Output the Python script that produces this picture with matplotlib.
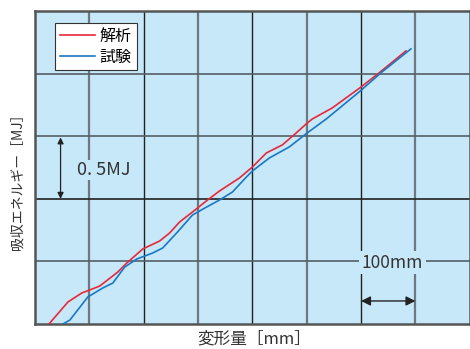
import matplotlib.pyplot as plt

plt.rcParams['font.family'] = ['Noto Sans CJK JP', 'DejaVu Sans']

# 解析 (analysis) curve: displacement [mm], absorbed energy [MJ]
ana_x = [25.7, 60.6, 86.2, 100.9, 119.3, 152.3, 168.8, 198.2, 229.4, 247.7, 266.1,
         289.9, 317.4, 339.4, 376.1, 400.0, 425.7, 455.0, 480.7, 500.9, 510.1,
         546.8, 600.0, 633.0, 682.6]
ana_y = [0.0, 0.176, 0.248, 0.272, 0.304, 0.415, 0.487, 0.599, 0.663, 0.727, 0.815,
         0.895, 0.990, 1.062, 1.166, 1.254, 1.366, 1.430, 1.526, 1.605, 1.637,
         1.725, 1.893, 2.005, 2.181]

# 試験 (test) curve
exp_x = [51.4, 64.2, 97.2, 124.8, 143.1, 165.1, 187.2, 216.5, 234.9, 260.6, 289.9,
         315.6, 339.4, 363.3, 389.0, 400.0, 431.2, 467.9, 500.9, 535.8, 596.3,
         638.5, 691.7]
exp_y = [0.0, 0.032, 0.216, 0.288, 0.327, 0.455, 0.519, 0.567, 0.607, 0.727, 0.871,
         0.934, 0.990, 1.054, 1.174, 1.222, 1.326, 1.414, 1.526, 1.637, 1.853,
         2.013, 2.197]

bg = '#c6e8f8'
fig = plt.figure(figsize=(4.70, 3.49), dpi=100)
ax = fig.add_axes([0.0745, 0.0716, 0.925, 0.897])
ax.set_facecolor(bg)
ax.set_xlim(0, 800)
ax.set_ylim(0, 2.5)
ax.set_xticks([])
ax.set_yticks([])

# grid, alternating dark / gray
for i, gx in enumerate(range(100, 800, 100)):
    c = '#6d7880' if i % 2 == 0 else '#222222'
    ax.axvline(gx, color=c, lw=1.6 if i % 2 == 0 else 1.0, zorder=1)
for gy in [0.5, 1.0, 1.5, 2.0]:
    c = '#222222' if gy == 1.0 else '#555e66'
    ax.axhline(gy, color=c, lw=1.2, zorder=1)

for s in ax.spines.values():
    s.set_color('#555555')
    s.set_linewidth(1.8)

ax.plot(ana_x, ana_y, color='#e8283a', lw=1.2, label='解析', zorder=3)
ax.plot(exp_x, exp_y, color='#1a78c4', lw=1.2, label='試験', zorder=3)

leg = ax.legend(loc='upper left', bbox_to_anchor=(0.046, 0.962), borderaxespad=0,
                fontsize=11.5, fancybox=False, framealpha=1, edgecolor='#333333',
                handlelength=2.2, borderpad=0.3, labelspacing=0.25, handletextpad=0.3)
leg.get_frame().set_linewidth(0.8)

# 0.5MJ dimension
ax.annotate('', xy=(47, 1.0), xytext=(47, 1.49),
            arrowprops=dict(arrowstyle='<|-|>', color='#222222', lw=0.9,
                            mutation_scale=9, shrinkA=0, shrinkB=0), zorder=4)
ax.text(127, 1.23, '0. 5MJ', fontsize=13, ha='center', va='center', color='#333333',
        bbox=dict(facecolor=bg, edgecolor='none', pad=1), zorder=4)

# 100mm dimension
ax.annotate('', xy=(600, 0.184), xytext=(700, 0.184),
            arrowprops=dict(arrowstyle='<|-|>', color='#222222', lw=1.0,
                            mutation_scale=14, shrinkA=0, shrinkB=0), zorder=4)
ax.text(657, 0.49, '100mm', fontsize=12.5, ha='center', va='center', color='#333333',
        bbox=dict(facecolor=bg, edgecolor='none', pad=2), zorder=4)

fig.text(0.54, 0.03, '変形量［mm］', fontsize=12, ha='center', va='center', color='#333333')
fig.text(0.037, 0.49, '吸収エネルギー［MJ］', fontsize=10, ha='center', va='center',
         rotation=90, color='#333333')

fig.savefig('out.png', dpi=100)
